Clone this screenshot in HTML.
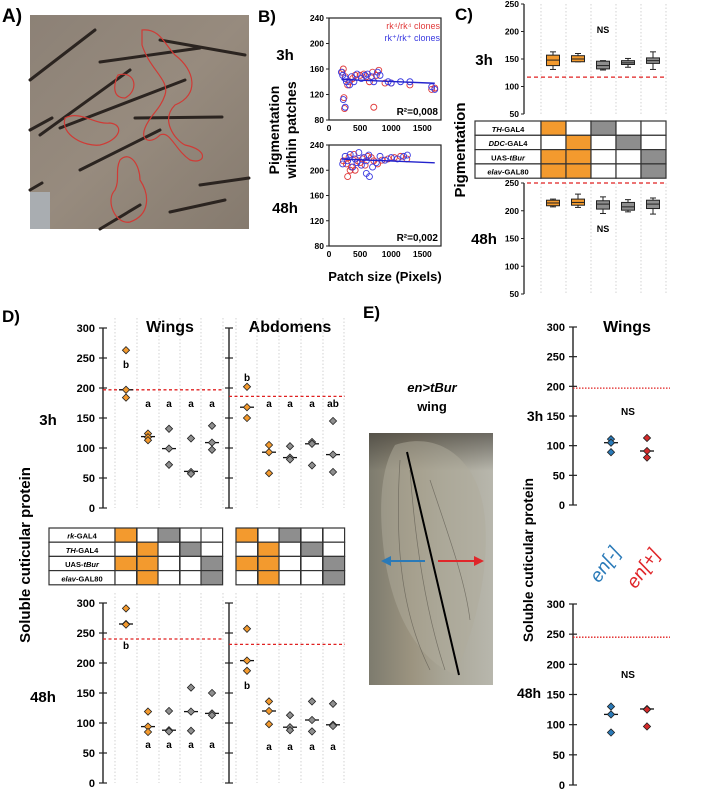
<!DOCTYPE html>
<html><head><meta charset="utf-8"><style>
body{margin:0;background:#fff;}
svg{display:block;font-family:"Liberation Sans",Arial,sans-serif;}
.b{font-weight:bold}
</style></head><body>
<svg id="fig" width="709" height="789" viewBox="0 0 709 789" xmlns="http://www.w3.org/2000/svg">
<defs>
<linearGradient id="gA" x1="0" y1="0" x2="1" y2="1"><stop offset="0" stop-color="#8c8176"/><stop offset="0.5" stop-color="#978b7e"/><stop offset="1" stop-color="#857a6e"/></linearGradient>
<linearGradient id="gW" x1="0" y1="0" x2="1" y2="0"><stop offset="0" stop-color="#7d7b6e"/><stop offset="0.35" stop-color="#9c9480"/><stop offset="0.6" stop-color="#a8a596"/><stop offset="1" stop-color="#b8b7ad"/></linearGradient>
<linearGradient id="gW2" x1="0" y1="0" x2="0" y2="1"><stop offset="0" stop-color="#3a3630" stop-opacity="0.6"/><stop offset="0.15" stop-color="#3a3630" stop-opacity="0"/></linearGradient>
</defs>
<g>
<text x="2" y="22" font-size="19" class="b">A)</text>
<rect x="30" y="15" width="219" height="214" fill="url(#gA)"/>
<rect x="30" y="192" width="20" height="37" fill="#a9adb1"/>
<g stroke="#2b2420" stroke-width="3" stroke-linecap="round">
<line x1="30" y1="80" x2="95" y2="30"/><line x1="100" y1="62" x2="200" y2="48"/><line x1="40" y1="135" x2="130" y2="70"/>
<line x1="60" y1="128" x2="185" y2="80"/><line x1="30" y1="130" x2="52" y2="118"/><line x1="135" y1="118" x2="222" y2="117"/>
<line x1="80" y1="170" x2="160" y2="130"/><line x1="30" y1="190" x2="42" y2="183"/><line x1="170" y1="212" x2="225" y2="200"/>
<line x1="100" y1="229" x2="140" y2="205"/><line x1="200" y1="185" x2="249" y2="178"/><line x1="160" y1="40" x2="245" y2="55"/>
</g>
<path d="M142 30 C160 28 165 45 175 55 C195 70 200 95 175 105 C160 120 175 140 185 145 C210 150 205 165 190 160 C175 150 170 130 160 135 C150 145 140 140 145 128 C150 115 160 110 165 95 C170 80 150 70 142 45 Z M118 75 C135 70 140 90 125 98 C110 98 115 80 118 75 Z M65 118 C80 110 95 125 110 123 C125 125 120 140 100 145 C85 147 60 135 65 118 Z M120 160 C130 150 140 165 140 180 C150 195 150 215 130 222 C115 225 105 200 115 190 C120 180 115 170 120 160 Z" fill="none" stroke="#d03a35" stroke-width="1.2"/>
</g>
<g id="pB">
<text x="258" y="22" font-size="17" class="b">B)</text>
<text x="285" y="60" font-size="15" class="b" text-anchor="middle">3h</text>
<text x="285" y="213" font-size="15" class="b" text-anchor="middle">48h</text>
<text transform="translate(279,130) rotate(-90)" font-size="14" class="b" text-anchor="middle">Pigmentation</text>
<text transform="translate(296,130) rotate(-90)" font-size="14" class="b" text-anchor="middle">within patches</text>
<text x="385" y="281" font-size="13" class="b" text-anchor="middle">Patch size (Pixels)</text>
</g>
<g id="pC">
<text x="455" y="20" font-size="17" class="b">C)</text>
<text x="484" y="65" font-size="15" class="b" text-anchor="middle">3h</text>
<text x="484" y="244" font-size="15" class="b" text-anchor="middle">48h</text>
<text transform="translate(465,150) rotate(-90)" font-size="15" class="b" text-anchor="middle">Pigmentation</text>
</g>
<g id="pD">
<text x="2" y="322" font-size="17" class="b">D)</text>
<text x="170" y="332" font-size="16" class="b" text-anchor="middle">Wings</text>
<text x="290" y="332" font-size="16" class="b" text-anchor="middle">Abdomens</text>
<text x="48" y="425" font-size="15" class="b" text-anchor="middle">3h</text>
<text x="43" y="702" font-size="15" class="b" text-anchor="middle">48h</text>
<text transform="translate(30,555) rotate(-90)" font-size="15" class="b" text-anchor="middle">Soluble cuticular protein</text>
</g>
<g id="pE">
<text x="363" y="318" font-size="17" class="b">E)</text>
<text x="432" y="392" font-size="13" class="b" font-style="italic" text-anchor="middle">en&gt;tBur</text>
<text x="432" y="411" font-size="13" class="b" text-anchor="middle">wing</text>
<rect x="369" y="433" width="124" height="252" fill="url(#gW)"/>
<rect x="369" y="433" width="124" height="252" fill="url(#gW2)"/>
<path d="M395 445 C440 430 480 460 485 520 C490 580 470 640 455 675 C420 660 395 620 385 560 C378 510 380 470 395 445 Z" fill="#b0ab9c" opacity="0.5"/>
<g stroke="#5e5a50" stroke-width="0.7" fill="none" opacity="0.7">
<path d="M400 460 C395 540 400 610 430 670"/><path d="M410 470 C415 540 425 610 445 670"/><path d="M430 480 C450 540 465 580 470 620"/>
</g>
<line x1="407" y1="452" x2="459" y2="675" stroke="#000" stroke-width="2"/>
<line x1="425" y1="561" x2="388" y2="561" stroke="#2a7ab8" stroke-width="2"/>
<polygon points="381,561 391,556 391,566" fill="#2a7ab8"/>
<line x1="438" y1="561" x2="477" y2="561" stroke="#e0262a" stroke-width="2"/>
<polygon points="484,561 474,556 474,566" fill="#e0262a"/>
<text x="627" y="332" font-size="16" class="b" text-anchor="middle">Wings</text>
<text x="535" y="421" font-size="14" class="b" text-anchor="middle">3h</text>
<text x="529" y="698" font-size="14" class="b" text-anchor="middle">48h</text>
<text transform="translate(533,560) rotate(-90)" font-size="14" class="b" text-anchor="middle">Soluble cuticular protein</text>
<text transform="translate(610,568) rotate(-55)" font-size="19" font-style="italic" fill="#2a7ab8" text-anchor="middle">en[-]</text>
<text transform="translate(648,572) rotate(-55)" font-size="19" font-style="italic" fill="#e0262a" text-anchor="middle">en[+]</text>
</g>
</svg>
<script>
// ---------- Panel B data ----------
const bTicksY = [80,120,160,200,240];
const bTicksX = [0,500,1000,1500];
const b3hRedX = [210,230,260,300,330,380,420,500,560,600,650,700,720,760,800,900,1000,1300,1650,1700,240,250];
const b3hRedY = [155,160,148,135,140,145,150,150,152,148,140,155,100,150,158,138,138,135,128,130,115,98];
const b3hBlueX = [200,220,260,280,330,360,400,450,520,580,620,680,720,780,820,950,1000,1150,1300,1650,1700,230,260];
const b3hBlueY = [155,150,145,140,135,148,140,152,145,150,152,148,140,155,150,140,138,140,140,132,128,112,100];
const b48RedX = [230,280,320,360,400,420,460,500,540,580,620,680,720,780,850,950,1050,1150,1250,300,340];
const b48RedY = [215,210,220,205,225,200,215,212,218,208,222,220,215,210,216,218,220,222,218,190,200];
const b48BlueX = [220,260,300,340,380,420,450,480,520,560,600,640,700,760,820,900,1000,1100,1200,1260,600,650];
const b48BlueY = [210,222,215,225,205,218,212,228,208,220,215,224,205,212,222,216,220,218,222,224,195,190];
// ---------- Panel C data ----------
const cTicks = [50,100,150,200,250];
const c3hMed = [148,150,138,143,147];
const c3hQ1 = [138,145,132,140,142];
const c3hQ3 = [157,156,146,147,152];
const c3hMin = [131,145,130,135,131];
const c3hMax = [163,160,147,151,163];
const c48Med = [214,215,212,207,212];
const c48Q1 = [209,210,203,201,204];
const c48Q3 = [219,221,218,215,219];
const c48Min = [207,206,195,198,194];
const c48Max = [221,230,225,220,223];
const cRef3h = 117;
const cRef48h = 250;
const cRowLabels = ["TH-GAL4","DDC-GAL4","UAS-tBur","elav-GAL80"];
const cGrid = [[1,0,2,0,0],[0,1,0,2,0],[1,1,0,0,2],[1,1,0,0,2]];
// ---------- Panel D data ----------
const dTicks = [0,50,100,150,200,250,300];
const dW3h = [[263,197,184],[124,118,113],[132,99,72],[116,60,57],[137,109,97]];
const dW3hMed = [197,119,99,61,109];
const dA3h = [[202,168,150],[105,93,58],[103,84,81],[110,107,71],[145,89,60]];
const dA3hMed = [168,93,84,107,89];
const dW48 = [[291,265,264],[119,94,85],[120,88,86],[159,119,87],[150,116,113]];
const dW48Med = [265,94,88,119,116];
const dA48 = [[257,204,187],[136,120,98],[113,93,88],[136,105,86],[132,97,95]];
const dA48Med = [204,120,93,105,97];
const dRefs = [197,186,240,231];
const dLetW3h = ["b","a","a","a","a"];
const dLetA3h = ["b","a","a","a","ab"];
const dLetW48 = ["b","a","a","a","a"];
const dLetA48 = ["b","a","a","a","a"];
const dRowLabels = ["rk-GAL4","TH-GAL4","UAS-tBur","elav-GAL80"];
const dGrid = [[1,0,2,0,0],[0,1,0,2,0],[1,1,0,0,2],[0,1,0,0,2]];
// ---------- Panel E data ----------
const eGroups = ["en[-]","en[+]"];
const e3h = [[111,105,89],[113,91,80]];
const e3hMed = [105,91];
const e48 = [[130,117,87],[126,125,97]];
const e48Med = [117,126];
const eRefs = [197,245];

const NS = "http://www.w3.org/2000/svg";
const svg = document.getElementById('fig');
const ORANGE = "#f39a2e", GRAY = "#8e8e8e";
function mk(tag, attrs, parent, txt){
  const e = document.createElementNS(NS, tag);
  for (const k in attrs) e.setAttribute(k, attrs[k]);
  if (txt !== undefined) e.textContent = txt;
  (parent || svg).appendChild(e);
  return e;
}
function lin(d0,d1,r0,r1){return v => r0 + (v-d0)*(r1-r0)/(d1-d0);}

// ===== Panel B =====
function scatterB(y0, y1, rx, ry, bx, by, r2, legend){
  const X = lin(0,1800,329,441), Y = lin(80,240,y1,y0);
  const g = mk('g',{});
  
  
  const fr = mk('rect',{x:329,y:y0,width:112,height:y1-y0,fill:'none',stroke:'#222','stroke-width':1.2},g);
  
  
  bTicksY.forEach(t=>{
    const tl = mk('text',{x:324,y:Y(t)+3,'font-size':8.5,'font-weight':'bold','text-anchor':'end'},g,String(t));
    
    
    mk('line',{x1:326,x2:329,y1:Y(t),y2:Y(t),stroke:'#222'},g);
  });
  bTicksX.forEach(t=>{
    const tl = mk('text',{x:X(t),y:y1+11,'font-size':8.5,'font-weight':'bold','text-anchor':'middle'},g,String(t));
    
    
  });
  rx.forEach((v,i)=>{
    const c = mk('circle',{cx:X(v),cy:Y(ry[i]),r:3,fill:'none',stroke:'#e03a3a','stroke-width':0.9},g);
    
    
  });
  bx.forEach((v,i)=>{
    const c = mk('circle',{cx:X(v),cy:Y(by[i]),r:3,fill:'none',stroke:'#3a3ae0','stroke-width':0.9},g);
    
    
  });
  const my = by.reduce((a,b)=>a+b,0)/by.length;
  const tr = mk('line',{x1:X(200),x2:X(1700),y1:Y(my+3),y2:Y(my-3),stroke:'#2222cc','stroke-width':1.4},g);
  
  
  const r = mk('text',{x:438,y:y1-5,'font-size':10,'font-weight':'bold','text-anchor':'end'},g,r2);
  
  
  if(legend){
    const l1 = mk('text',{x:440,y:y0+11,'font-size':9,fill:'#e03a3a','text-anchor':'end'},g,'rk⁴/rk⁴ clones');
    
    
    const l2 = mk('text',{x:440,y:y0+23,'font-size':9,fill:'#3a3ae0','text-anchor':'end'},g,'rk⁺/rk⁺ clones');
    
    
  }
}
scatterB(18,120,b3hRedX,b3hRedY,b3hBlueX,b3hBlueY,'R²=0,008',true);
scatterB(145,246,b48RedX,b48RedY,b48BlueX,b48BlueY,'R²=0,002',false);

// ===== generic table =====
function table(x0, yTop, labelW, cellW, rowH, labels, grid, cols, fs){
  const g = mk('g',{});
  
  
  labels.forEach((lab,r)=>{
    const y = yTop + r*rowH;
    const c = mk('rect',{x:x0,y:y,width:labelW,height:rowH,fill:'#fff',stroke:'#333','stroke-width':1.2},g);
    
    
    const parts = lab.split('-');
    const t = mk('text',{x:x0+labelW/2,y:y+rowH-3.5,'font-size':fs,'font-weight':'bold','text-anchor':'middle'},g);
    
    
    const italic = parts[0]!=='UAS';
    mk('tspan',{'font-style':italic?'italic':'normal'},t,parts[0]+'-');
    mk('tspan',{'font-style':italic?'normal':'italic'},t,parts[1]);
    cols.forEach((cx,ci)=>{
      const v = grid[r][ci];
      const cell = mk('rect',{x:cx,y:y,width:cellW,height:rowH,fill:v===1?ORANGE:(v===2?GRAY:'#fff'),stroke:'#333','stroke-width':1.2},g);
      
      
    });
  });
}

// ===== Panel C =====
function boxPlot(y250, y50, med,q1,q3,mn,mx, ref, ns, nsY){
  const Y = lin(50,250,y50,y250);
  const g = mk('g',{});
  
  
  mk('line',{x1:524,x2:524,y1:Y(250),y2:Y(50),stroke:'#222','stroke-width':1.3},g);
  cTicks.forEach(t=>{
    mk('line',{x1:521,x2:524,y1:Y(t),y2:Y(t),stroke:'#222'},g);
    const tl = mk('text',{x:519,y:Y(t)+3,'font-size':8.5,'font-weight':'bold','text-anchor':'end'},g,String(t));
    
    
  });
  for(let i=0;i<=5;i++) mk('line',{x1:541+i*25,x2:541+i*25,y1:Y(250),y2:Y(50),stroke:'#c8c8c8','stroke-width':0.8,'stroke-dasharray':'1.5,2'},g);
  const rl = mk('line',{x1:527,x2:666,y1:Y(ref),y2:Y(ref),stroke:'#e02020','stroke-width':1.3,'stroke-dasharray':'4,3'},g);
  
  
  med.forEach((m,i)=>{
    const cx = 553+i*25;
    const col = i<2?ORANGE:GRAY;
    mk('line',{x1:cx,x2:cx,y1:Y(mx[i]),y2:Y(mn[i]),stroke:'#222'},g);
    mk('line',{x1:cx-3,x2:cx+3,y1:Y(mx[i]),y2:Y(mx[i]),stroke:'#222'},g);
    mk('line',{x1:cx-3,x2:cx+3,y1:Y(mn[i]),y2:Y(mn[i]),stroke:'#222'},g);
    const bx = mk('rect',{x:cx-6.5,y:Y(q3[i]),width:13,height:Y(q1[i])-Y(q3[i]),fill:col,stroke:'#222','stroke-width':1},g);
    
    
    mk('line',{x1:cx-6.5,x2:cx+6.5,y1:Y(m),y2:Y(m),stroke:'#222'},g);
  });
  const n = mk('text',{x:603,y:nsY,'font-size':9,'font-weight':'bold','text-anchor':'middle'},g,'NS');
  
  
}
boxPlot(4,114,c3hMed,c3hQ1,c3hQ3,c3hMin,c3hMax,cRef3h,'NS',33);
table(475,121,66,25,14.3,cRowLabels,cGrid,[541,566,591,616,641],7.5);
boxPlot(183,294,c48Med,c48Q1,c48Q3,c48Min,c48Max,cRef48h,'NS',232);

// ===== dot plots (D and E) =====
function diamond(g,x,y,col,name){
  const s=3.6;
  const p = mk('polygon',{points:`${x},${y-s} ${x+s},${y} ${x},${y+s} ${x-s},${y}`,fill:col,stroke:'#222','stroke-width':0.8},g);
  
  
}
function dotPlot(axisX, yTop, yBot, vals, meds, cols, colors, ref, refX1, letters, letterVals, ticksOn, dashed, gridX){
  const Y = lin(0,300,yBot,yTop);
  const g = mk('g',{});
  
  
  if(gridX) gridX.forEach(x=>mk('line',{x1:x,x2:x,y1:yTop-10,y2:yBot,stroke:'#c8c8c8','stroke-width':0.8,'stroke-dasharray':'1.5,2'},g));
  mk('line',{x1:axisX,x2:axisX,y1:yTop,y2:yBot,stroke:'#222','stroke-width':1.4},g);
  dTicks.forEach(t=>{
    mk('line',{x1:axisX-4,x2:axisX+4,y1:Y(t),y2:Y(t),stroke:'#222','stroke-width':1.2},g);
    if(ticksOn){
      const tl = mk('text',{x:axisX-8,y:Y(t)+4,'font-size':11,'font-weight':'bold','text-anchor':'end'},g,String(t));
      
      
    }
  });
  const rl = mk('line',{x1:axisX,x2:refX1,y1:Y(ref),y2:Y(ref),stroke:'#e02020','stroke-width':1.3,'stroke-dasharray':dashed?'3,2.5':'1.5,1.5'},g);
  
  
  vals.forEach((arr,i)=>{
    const cx = cols[i];
    const ml = mk('line',{x1:cx-7,x2:cx+7,y1:Y(meds[i]),y2:Y(meds[i]),stroke:'#111','stroke-width':1.3},g);
    
    
    arr.forEach(v=>diamond(g,cx,Y(v),colors[i],'data-point'));
    if(letters){
      const t = mk('text',{x:cx,y:Y(letterVals[i])+4,'font-size':10,'font-weight':'bold','text-anchor':'middle'},g,letters[i]);
      
      
    }
  });
}
const wCols=[126,148,169,191,212], aCols=[247,269,290,312,333];
const dColors=[ORANGE,ORANGE,GRAY,GRAY,GRAY];
const wGrid=[115,137,159,180,201,223], aGrid=[236,257,279,301,323,344];
dotPlot(103,328,508,dW3h,dW3hMed,wCols,dColors,dRefs[0],223,dLetW3h,[240,175,175,175,175],true,true,wGrid);
dotPlot(229,328,508,dA3h,dA3hMed,aCols,dColors,dRefs[1],345,dLetA3h,[218,175,175,175,175],false,true,aGrid);
table(49,528,66,21.6,14.2,dRowLabels,dGrid,[115,137,158,180,201],7.5);
(function(){
  const cellsA=[236,258,279,301,323];
  const g = mk('g',{});
  
  
  dGrid.forEach((row,r)=>row.forEach((v,ci)=>{
    const c = mk('rect',{x:cellsA[ci],y:528+r*14.2,width:21.6,height:14.2,fill:v===1?ORANGE:(v===2?GRAY:'#fff'),stroke:'#333','stroke-width':1.2},g);
    
    
  }));
})();
dotPlot(103,603,783,dW48,dW48Med,wCols,dColors,dRefs[2],223,dLetW48,[230,65,65,65,65],true,true,wGrid);
dotPlot(229,603,783,dA48,dA48Med,aCols,dColors,dRefs[3],345,dLetA48,[163,62,62,62,62],false,true,aGrid);

// E
const eColors=["#2a7ab8","#d42a2a"];
dotPlot(573,327,505,e3h,e3hMed,[611,647],eColors,eRefs[0],670,null,null,true,false,null);
dotPlot(573,604,785,e48,e48Med,[611,647],eColors,eRefs[1],670,null,null,true,false,null);
[[415],[678]].forEach((p,i)=>{
  const t = mk('text',{x:628,y:p[0],'font-size':10,'font-weight':'bold','text-anchor':'middle'},svg,'NS');
  
  
});
</script>
</body></html>
